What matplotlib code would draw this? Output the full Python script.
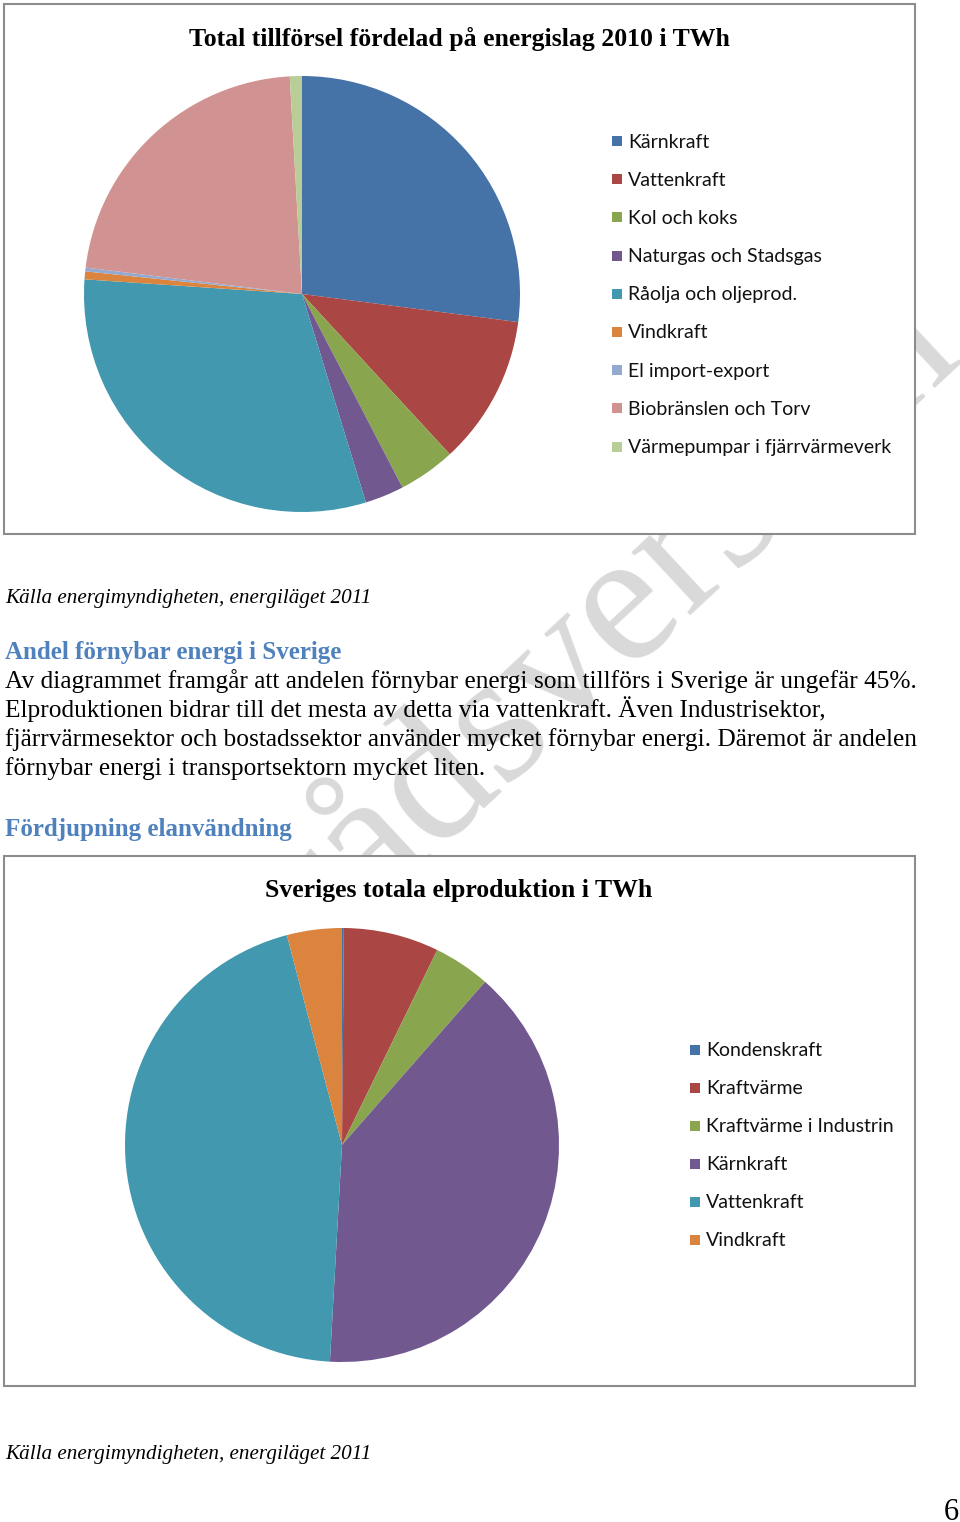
import matplotlib
matplotlib.use("Agg")
import matplotlib.pyplot as plt
from matplotlib.patches import Rectangle

# --- data -------------------------------------------------------------
tillforsel_labels = ["Kärnkraft", "Vattenkraft", "Kol och koks", "Naturgas och Stadsgas",
                     "Råolja och oljeprod.", "Vindkraft", "El import-export",
                     "Biobränslen och Torv", "Värmepumpar i fjärrvärmeverk"]
tillforsel_twh = [166, 68, 26, 17.7, 189, 3.6, 1.7, 136, 5.5]
tillforsel_colors = ["#4572a7", "#aa4643", "#89a54e", "#71588f", "#4198af",
                     "#db843d", "#93a9cf", "#d19392", "#b9cd96"]

el_labels = ["Kondenskraft", "Kraftvärme", "Kraftvärme i Industrin",
             "Kärnkraft", "Vattenkraft", "Vindkraft"]
el_twh = [0.2, 10.4, 6.2, 57.8, 66.0, 6.0]
el_colors = ["#4572a7", "#aa4643", "#89a54e", "#71588f", "#4198af", "#db843d"]

title1 = "Total tillförsel fördelad på energislag 2010 i TWh"
title2 = "Sveriges totala elproduktion i TWh"
source = "Källa energimyndigheten, energiläget 2011"
heading1 = "Andel förnybar energi i Sverige"
heading2 = "Fördjupning elanvändning"
paragraph = ["Av diagrammet framgår att andelen förnybar energi som tillförs i Sverige är ungefär 45%.",
             "Elproduktionen bidrar till det mesta av detta via vattenkraft. Även Industrisektor,",
             "fjärrvärmesektor och bostadssektor använder mycket förnybar energi. Däremot är andelen",
             "förnybar energi i transportsektorn mycket liten."]

W, H = 960, 1522
fig = plt.figure(figsize=(W / 100, H / 100), dpi=100)


def fx(x):
    return x / W


def fy(y):
    return 1 - y / H


SERIF = "Liberation Serif"
SANS = "Lato"
BLUE = "#4f81bd"

# watermark behind everything
fig.text(fx(520), fy(763), "Samrådsversion", rotation=43, rotation_mode="anchor",
         ha="center", va="baseline", fontsize=136, color="#d9d9d9",
         family=SERIF, zorder=0.5)


def chart_box(top, bottom):
    fig.add_artist(Rectangle((fx(4), fy(bottom)), 911 / W, (bottom - top) / H,
                             transform=fig.transFigure, facecolor="white",
                             edgecolor="#8c8c8c", linewidth=1.5, zorder=1))


def pie(cx, cy, r, values, colors):
    ax = fig.add_axes([fx(cx - r), fy(cy + r), 2 * r / W, 2 * r / H])
    ax.set_zorder(2)
    ax.pie(values, colors=colors, startangle=90, counterclock=False,
           wedgeprops=dict(linewidth=0))
    ax.set_xlim(-1, 1)
    ax.set_ylim(-1, 1)
    ax.axis("off")
    return ax


def legend(x, y0, labels, colors, step=38.2):
    for i, (lab, col) in enumerate(zip(labels, colors)):
        y = y0 + i * step
        fig.add_artist(Rectangle((fx(x), fy(y + 5)), 10 / W, 10 / H,
                                 transform=fig.transFigure, facecolor=col,
                                 edgecolor="none", zorder=3))
        fig.text(fx(x + 16), fy(y + 6.5), lab, ha="left", va="baseline",
                 fontsize=14, family=SANS, color="#111111")


# chart 1
chart_box(4, 534)
fig.text(fx(459), fy(46), title1, ha="center", va="baseline", fontsize=18.5,
         fontweight="bold", family=SERIF)
pie(302, 294, 218, tillforsel_twh, tillforsel_colors)
legend(612, 141, tillforsel_labels, tillforsel_colors)

fig.text(fx(5), fy(603), source, ha="left", va="baseline", fontsize=15.2,
         style="italic", family=SERIF)

fig.text(fx(5), fy(659), heading1, ha="left", va="baseline", fontsize=18,
         fontweight="bold", family=SERIF, color=BLUE)
for i, line in enumerate(paragraph):
    fig.text(fx(5), fy(688 + i * 29), line, ha="left", va="baseline",
             fontsize=18.3, family=SERIF)
fig.text(fx(5), fy(836), heading2, ha="left", va="baseline", fontsize=18,
         fontweight="bold", family=SERIF, color=BLUE)

# chart 2
chart_box(856, 1386)
fig.text(fx(459), fy(897), title2, ha="center", va="baseline", fontsize=18.5,
         fontweight="bold", family=SERIF)
pie(342, 1145, 217, el_twh, el_colors)
legend(690, 1050, el_labels, el_colors, step=38)

fig.text(fx(5), fy(1459), source, ha="left", va="baseline", fontsize=15.2,
         style="italic", family=SERIF)
fig.text(fx(951), fy(1520), "6", ha="center", va="baseline", fontsize=22,
         family=SERIF)

fig.savefig("out.png", dpi=100)
